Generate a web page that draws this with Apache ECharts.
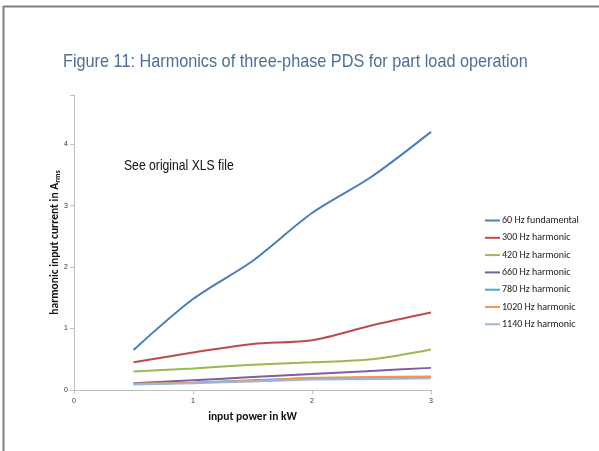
<!DOCTYPE html>
<html>
<head>
<meta charset="utf-8">
<script src="https://cdn.jsdelivr.net/npm/echarts@6/dist/echarts.min.js"></script>
<style>html,body{margin:0;padding:0;background:#fff;}#c{width:599px;height:451px;}</style>
</head>
<body>
<div id="c"></div>
<script>
const titleText = 'Figure 11: Harmonics of three-phase PDS for part load operation';
const noteText = 'See original XLS file';
const xTicks = [0, 1, 2, 3];
const yTicks = [0, 1, 2, 3, 4];
const power = [0.5, 1, 1.5, 2, 2.5, 3];
const names = ['60 Hz fundamental','300 Hz harmonic','420 Hz harmonic','660 Hz harmonic','780 Hz harmonic','1020 Hz harmonic','1140 Hz harmonic'];
const h60 = [0.65, 1.48, 2.10, 2.88, 3.47, 4.20];
const h300 = [0.45, 0.61, 0.75, 0.81, 1.05, 1.26];
const h420 = [0.30, 0.35, 0.41, 0.45, 0.50, 0.66];
const h660 = [0.11, 0.16, 0.21, 0.26, 0.31, 0.36];
const h780 = [0.10, 0.12, 0.16, 0.19, 0.20, 0.20];
const h1020 = [0.10, 0.12, 0.15, 0.20, 0.21, 0.22];
const h1140 = [0.09, 0.11, 0.14, 0.17, 0.18, 0.19];
const colors = ['#4A7EBB','#BE4B48','#98B954','#7D60A0','#46AAC5','#F79646','#9DB6DA'];
const allData = [h60,h300,h420,h660,h780,h1020,h1140];
const sans = '"Liberation Sans", Arial, sans-serif';
const cal = 'Carlito, "Open Sans", sans-serif';

const chart = echarts.init(document.getElementById('c'));
chart.setOption({
  animation: false,
  color: colors,
  grid: {left: 74, right: 168, top: 95, bottom: 61},
  legend: {
    orient: 'vertical', left: 480, top: 210, itemGap: 6.3,
    itemWidth: 15, itemHeight: 2, icon: 'rect',
    textStyle: {fontFamily: cal, fontSize: 10, color: '#222', lineHeight: 11, padding: [0,0,0,-3]},
    data: names
  },
  xAxis: {
    type: 'value', min: 0, max: 3, interval: 1,
    name: 'input power in kW', nameLocation: 'middle', nameGap: 21,
    nameTextStyle: {fontFamily: cal, fontSize: 11.5, fontWeight: 'bold', color: '#111'},
    axisLine: {lineStyle: {color: '#BFBFBF', width: 1}},
    axisTick: {show: true, length: 4, lineStyle: {color: '#BFBFBF'}},
    axisLabel: {fontSize: 7, color: '#333', margin: 8, formatter: v => xTicks.includes(v) ? String(v) : ''},
    splitLine: {show: false}
  },
  yAxis: {
    type: 'value', min: 0, max: 4.8, interval: 1,
    name: '{b|harmonic input current in A}{s|rms}', nameLocation: 'middle', nameGap: 12,
    nameMoveOverlap: false,
    nameTextStyle: {rich: {
      b: {fontFamily: cal, fontSize: 11.5, fontWeight: 'bold', color: '#111'},
      s: {fontFamily: cal, fontSize: 8, fontWeight: 'bold', color: '#111', padding: [5,0,0,0]}
    }},
    axisLine: {show: true, lineStyle: {color: '#BFBFBF', width: 1}},
    axisTick: {show: true, length: 4, lineStyle: {color: '#BFBFBF'}},
    axisLabel: {fontSize: 7, color: '#333', margin: 6, formatter: v => yTicks.includes(v) ? String(v) : ''},
    splitLine: {show: false}
  },
  graphic: [
    {type: 'line', shape: {x1: 3.5, y1: 6, x2: 3.5, y2: 451}, style: {stroke: '#7F7F7F', lineWidth: 2}},
    {type: 'line', shape: {x1: 3, y1: 6.5, x2: 599, y2: 6.5}, style: {stroke: '#7F7F7F', lineWidth: 2}},
    {type: 'text', x: 63, y: 52, scaleX: 0.855, style: {text: titleText, fontFamily: sans, fontSize: 19, fill: '#4E6F96'}},
    {type: 'text', x: 124, y: 159, scaleX: 0.87, style: {text: noteText, fontFamily: sans, fontSize: 14, fill: '#111'}}
  ],
  series: names.map((n, i) => ({
    name: n, type: 'line', smooth: 0.3, showSymbol: false,
    lineStyle: {width: 2, color: colors[i]},
    data: power.map((x, j) => [x, allData[i][j]])
  }))
});
</script>
</body>
</html>
